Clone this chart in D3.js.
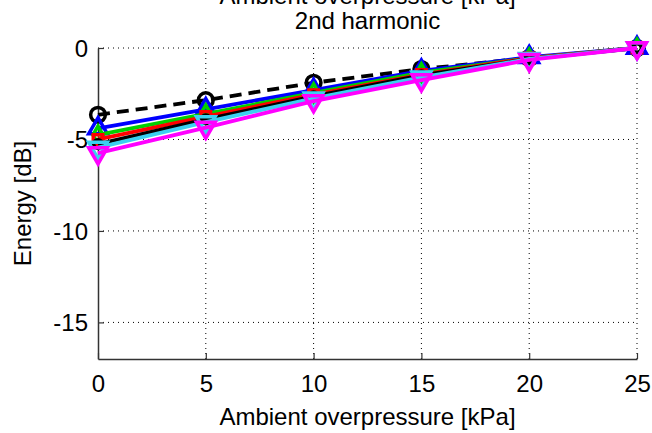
<!DOCTYPE html>
<html>
<head>
<meta charset="utf-8">
<script src="https://cdn.jsdelivr.net/npm/d3@7"></script>
<style>
  html, body { margin: 0; padding: 0; background: #fff; }
  svg { display: block; }
  text { font-family: "Liberation Sans", Arial, sans-serif; fill: #000; }
</style>
</head>
<body>
<svg id="chart" width="652" height="433"></svg>
<script>
// Ambient overpressure (kPa)
const pressures = [0, 5, 10, 15, 20, 25];

// Normalised 2nd-harmonic energy (dB), one array per curve
const refDashed = [-3.65, -2.85, -1.9, -1.15, -0.55, 0];
const seriesBlue = [-4.4, -3.35, -2.3, -1.25, -0.5, 0];
const seriesGreen = [-4.75, -3.6, -2.45, -1.35, -0.55, 0];
const seriesRed = [-5.0, -3.75, -2.55, -1.45, -0.55, 0];
const seriesBlack = [-5.25, -3.9, -2.65, -1.5, -0.6, 0];
const seriesCyan = [-5.45, -4.05, -2.75, -1.6, -0.6, 0];
const seriesMagenta = [-5.75, -4.35, -2.9, -1.75, -0.65, 0];

const xTicks = [0, 5, 10, 15, 20, 25];
const yTicks = [0, -5, -10, -15];

const titleLines = ["Ambient overpressure [kPa]", "2nd harmonic"];
const xLabel = "Ambient overpressure [kPa]";
const yLabel = "Energy [dB]";

const curves = [
  { values: refDashed, color: "#000000", dash: "12,7", marker: "circle" },
  { values: seriesBlue, color: "#0000ff", dash: null, marker: "up" },
  { values: seriesGreen, color: "#00d000", dash: null, marker: "diamond" },
  { values: seriesRed, color: "#ff0000", dash: null, marker: "square" },
  { values: seriesBlack, color: "#000000", dash: null, marker: "small" },
  { values: seriesCyan, color: "#3cd0f0", dash: null, marker: "down" },
  { values: seriesMagenta, color: "#ff00ff", dash: null, marker: "down" }
];

const svg = d3.select("#chart");
const plotLeft = 98, plotRight = 637, plotTop = 48, plotBottom = 359;

const x = d3.scaleLinear().domain([0, 25]).range([plotLeft, plotRight]);
const y = d3.scaleLinear().domain([-17, 0]).range([plotBottom, plotTop]);

// dotted grid
const grid = svg.append("g");
grid.selectAll("line.gx").data(xTicks.filter(d => d > 0)).enter().append("line")
  .attr("x1", d => x(d)).attr("x2", d => x(d))
  .attr("y1", plotTop).attr("y2", plotBottom)
  .attr("stroke", "#000").attr("stroke-width", 1).attr("stroke-dasharray", "1,4");
grid.selectAll("line.gy").data(yTicks).enter().append("line")
  .attr("x1", plotLeft).attr("x2", plotRight)
  .attr("y1", d => y(d)).attr("y2", d => y(d))
  .attr("stroke", "#000").attr("stroke-width", 1).attr("stroke-dasharray", "1,4");

// axes with inward ticks; plain hyphen for negative labels
const plain = d => String(d);
const xAxis = d3.axisBottom(x).tickValues(xTicks).tickFormat(plain).tickSizeInner(-6).tickSizeOuter(0).tickPadding(16);
const yAxis = d3.axisLeft(y).tickValues(yTicks).tickFormat(plain).tickSizeInner(-6).tickSizeOuter(0).tickPadding(10);

const gx = svg.append("g").attr("transform", `translate(0,${plotBottom})`).call(xAxis);
const gy = svg.append("g").attr("transform", `translate(${plotLeft},0)`).call(yAxis);
[gx, gy].forEach(g => {
  g.select(".domain").attr("stroke", "#333").attr("stroke-width", 1.5);
  g.selectAll(".tick line").attr("stroke", "#333").attr("stroke-width", 1.2);
  g.selectAll(".tick text").style("font-size", "24px").attr("font-family", "Liberation Sans, Arial, sans-serif");
});
gy.selectAll(".tick text").attr("dy", "0.35em");

// curves
const line = d3.line().x((d, i) => x(pressures[i])).y(d => y(d));
const symbolFor = {
  circle: d3.symbol().type(d3.symbolCircle).size(170),
  small: d3.symbol().type(d3.symbolCircle).size(60),
  square: d3.symbol().type(d3.symbolSquare).size(90),
  diamond: d3.symbol().type(d3.symbolDiamond).size(90),
  up: d3.symbol().type(d3.symbolTriangle).size(150),
  down: d3.symbol().type(d3.symbolTriangle).size(150)
};

curves.forEach(c => {
  const g = svg.append("g");
  g.append("path").datum(c.values)
    .attr("d", line)
    .attr("fill", "none")
    .attr("stroke", c.color)
    .attr("stroke-width", 3.8)
    .attr("stroke-dasharray", c.dash);
  g.selectAll("path.m").data(c.values).enter().append("path")
    .attr("d", symbolFor[c.marker]())
    .attr("transform", (d, i) => `translate(${x(pressures[i])},${y(d)})` + (c.marker === "down" ? " rotate(180)" : ""))
    .attr("fill", "none")
    .attr("stroke", c.color)
    .attr("stroke-width", 3.5);
});

// titles and labels
const cx = (plotLeft + plotRight) / 2;
svg.append("text").attr("x", cx).attr("y", 4).attr("text-anchor", "middle")
  .style("font-size", "24px").text(titleLines[0]);
svg.append("text").attr("x", cx).attr("y", 29).attr("text-anchor", "middle")
  .style("font-size", "24px").text(titleLines[1]);

svg.append("text").attr("x", cx).attr("y", 425).attr("text-anchor", "middle")
  .style("font-size", "24px").text(xLabel);

svg.append("text")
  .attr("transform", `translate(31,${(plotTop + plotBottom) / 2}) rotate(-90)`)
  .attr("text-anchor", "middle")
  .style("font-size", "24px").text(yLabel);
</script>
</body>
</html>
